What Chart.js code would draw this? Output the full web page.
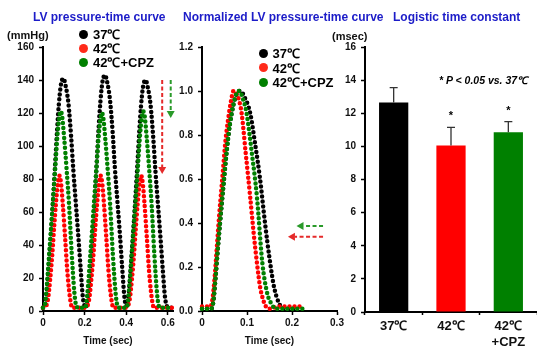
<!DOCTYPE html>
<html><head><meta charset="utf-8">
<script src="https://cdn.jsdelivr.net/npm/chart.js@4.4.1/dist/chart.umd.min.js"></script>
<style>
html,body{margin:0;padding:0;background:#fff;}
#wrap{position:relative;width:537px;height:346px;overflow:hidden;font-family:Arial,'Liberation Sans',sans-serif;background:#fff;}
canvas{position:absolute;top:0;}
.t{position:absolute;white-space:nowrap;transform:translateY(-50%);line-height:1;}
.title{color:#1c1cc8;font-weight:bold;font-size:12px;}
.unit{font-weight:bold;font-size:11px;color:#111;}
.leg{position:absolute;display:flex;align-items:center;height:14px;font-weight:bold;font-size:13px;color:#000;white-space:nowrap;}
.dot{display:inline-block;width:9px;height:9px;border-radius:50%;}
.note{font-weight:bold;font-style:italic;font-size:10.5px;color:#000;}
</style></head><body>
<div id="wrap">
<canvas id="c1" width="185" height="346" style="left:0;width:185px;height:346px"></canvas>
<canvas id="c2" width="178" height="346" style="left:172px;width:178px;height:346px"></canvas>
<canvas id="c3" width="202" height="346" style="left:335px;width:202px;height:346px"></canvas>
<div class="t title" style="left:33px;top:17px">LV pressure-time curve</div>
<div class="t title" style="left:183px;top:17px">Normalized LV pressure-time curve</div>
<div class="t title" style="left:393px;top:17px">Logistic time constant</div>
<div class="t unit" style="left:7px;top:35px">(mmHg)</div>
<div class="t unit" style="left:332px;top:36px">(msec)</div>
<div class="t note" style="left:439px;top:80px">* P &lt; 0.05 vs. 37℃</div>
</div>
<script>
// ---------- data ----------
const seriesNames = ['37℃', '42℃', '42℃+CPZ'];
const seriesColors = ['#000000', '#ff0000', '#008000'];

// Panel 1: LV pressure (mmHg) vs time (sec)
const t37 = [0,0.005,0.015,0.030,0.045,0.058,0.068,0.076,0.086,0.098,0.108,0.122,0.135,0.146,0.158,0.170,0.182,0.191,0.200,
  0.205,0.215,0.230,0.245,0.258,0.268,0.276,0.286,0.298,0.308,0.322,0.335,0.346,0.358,0.370,0.382,0.391,0.400,
  0.410,0.425,0.440,0.453,0.463,0.471,0.481,0.493,0.503,0.517,0.530,0.541,0.553,0.565,0.577,0.586,0.595,0.605,0.625];
const p37 = [2,2,8,32,60,88,110,125,137,141,137,126,106,85,65,45,24,9,3,
  2,8,32,61,89,112,127,139,143,139,128,108,86,66,46,24,9,3,
  8,32,60,87,109,124,136,140,136,125,105,84,64,44,23,9,3,2,2];

const t42 = [0,0.015,0.025,0.035,0.045,0.053,0.062,0.071,0.079,0.087,0.095,0.106,0.117,0.125,0.132,0.140,
  0.198,0.213,0.223,0.233,0.243,0.251,0.260,0.269,0.277,0.285,0.293,0.304,0.315,0.323,0.330,0.338,
  0.393,0.408,0.418,0.428,0.438,0.446,0.455,0.464,0.472,0.480,0.488,0.499,0.510,0.518,0.525,0.533,0.620];
const p42 = [2,3,8,20,35,50,65,77,82,77,65,45,24,13,6,2,
  2,3,8,20,35,50,65,77,82,77,65,45,24,13,6,2,
  2,3,8,20,35,50,65,77,82,77,65,45,24,13,6,2,2];

const tCPZ = [0,0.008,0.015,0.030,0.047,0.058,0.069,0.078,0.085,0.092,0.101,0.114,0.125,0.138,0.151,0.160,0.170,
  0.200,0.206,0.213,0.228,0.245,0.256,0.267,0.276,0.283,0.290,0.299,0.312,0.323,0.336,0.349,0.358,0.368,
  0.397,0.405,0.412,0.427,0.444,0.455,0.466,0.475,0.482,0.489,0.498,0.511,0.522,0.535,0.548,0.557,0.567,0.625];
const pCPZ = [2,3,10,35,65,85,106,117,121,118,106,85,65,35,11,3,2,
  2,3,10,35,65,85,105,116,120,117,105,84,64,34,11,3,2,
  2,3,10,35,65,85,106,117,121,118,106,85,65,35,11,3,2,2];

// Panel 2: normalized LV pressure vs time (sec)
const n37t = [0,0.020,0.025,0.030,0.035,0.040,0.048,0.055,0.062,0.070,0.078,0.085,0.095,0.107,0.118,0.129,0.140,0.150,0.160,0.170,0.178,0.190,0.205];
const n37v = [0.01,0.01,0.04,0.15,0.28,0.40,0.58,0.73,0.85,0.94,0.99,1.0,0.97,0.90,0.76,0.60,0.40,0.24,0.11,0.04,0.015,0.01,0.01];
const n42t = [0,0.018,0.023,0.028,0.033,0.038,0.045,0.052,0.058,0.064,0.070,0.076,0.082,0.088,0.097,0.107,0.115,0.122,0.129,0.136,0.142,0.150,0.170,0.222];
const n42v = [0.02,0.02,0.05,0.15,0.29,0.43,0.60,0.77,0.87,0.95,1.0,0.99,0.96,0.90,0.72,0.52,0.35,0.22,0.11,0.05,0.02,0.01,0.02,0.02];
const nCPZt = [0,0.020,0.025,0.030,0.035,0.040,0.048,0.055,0.062,0.070,0.077,0.083,0.090,0.099,0.110,0.122,0.134,0.145,0.155,0.165,0.175,0.225];
const nCPZv = [0.01,0.01,0.04,0.15,0.28,0.40,0.58,0.73,0.85,0.94,0.99,1.0,0.97,0.90,0.73,0.52,0.22,0.08,0.03,0.01,0.01,0.01];

// Panel 3: logistic time constant (msec)
const barLabels = ['37℃', '42℃', ['42℃', '+CPZ']];
const tauMean = [12.65, 10.05, 10.85];
const tauErr = [0.9, 1.1, 0.65];
const tauSig = [false, true, true];

// tick labels
const xTicks1 = [0, 0.2, 0.4, 0.6];
const yTicks1 = [0, 20, 40, 60, 80, 100, 120, 140, 160];
const xTicks2 = [0, 0.1, 0.2, 0.3];
const yTicks2 = [0, 0.2, 0.4, 0.6, 0.8, 1.0, 1.2];
const yTicks3 = [0, 2, 4, 6, 8, 10, 12, 14, 16];

// ---------- helpers ----------
const FONT = "Arial, 'Liberation Sans', sans-serif";
const tickFont = {family: FONT, size: 10, weight: 'bold'};
const pts = (ts, vs) => ts.map((t, i) => ({x: t, y: vs[i]}));

function dotted(label, color, data) {
  return {label, data, borderColor: color, backgroundColor: color, borderWidth: 4.5,
    borderDash: [0, 5], borderCapStyle: 'round', borderJoinStyle: 'round',
    pointRadius: 0, fill: false, cubicInterpolationMode: 'monotone', clip: false};
}
function axisCommon(extra) {
  return Object.assign({
    border: {display: true, color: '#000', width: 2},
    grid: {display: true, drawOnChartArea: false, drawTicks: true, tickLength: 4, tickWidth: 1.5, tickColor: '#000'},
  }, extra);
}

function drawArrow(ctx, x0, y0, x1, y1, color) {
  const dx = x1 - x0, dy = y1 - y0, L = Math.hypot(dx, dy), ux = dx / L, uy = dy / L;
  const head = 7, hw = 4;
  const bx = x1 - ux * head, by = y1 - uy * head;
  ctx.save();
  ctx.strokeStyle = color; ctx.lineWidth = 2; ctx.setLineDash([4, 2.5]);
  ctx.beginPath(); ctx.moveTo(x0, y0); ctx.lineTo(bx, by); ctx.stroke();
  ctx.setLineDash([]); ctx.fillStyle = color;
  ctx.beginPath(); ctx.moveTo(x1, y1);
  ctx.lineTo(bx - uy * hw, by + ux * hw); ctx.lineTo(bx + uy * hw, by - ux * hw);
  ctx.closePath(); ctx.fill();
  ctx.restore();
}
const arrowPlugin = {
  id: 'arrows',
  afterDatasetsDraw(chart, args, opts) {
    const xs = chart.scales.x, ys = chart.scales.y;
    (opts.list || []).forEach(a => {
      drawArrow(chart.ctx, xs.getPixelForValue(a.x0), ys.getPixelForValue(a.y0),
        xs.getPixelForValue(a.x1), ys.getPixelForValue(a.y1), a.color);
    });
  }
};

function lineChart(id, datasets, xMax, yMax, xT, yT, yFmt, arrows, xTitle, padRight, yWidth) {
  return new Chart(document.getElementById(id), {
    type: 'line',
    data: {datasets},
    plugins: [arrowPlugin],
    options: {
      responsive: false, animation: false, devicePixelRatio: 1,
      layout: {padding: {left: 0, top: 47, right: padRight, bottom: 0}},
      plugins: {legend: {display: false}, tooltip: {enabled: false}, arrows: {list: arrows}},
      scales: {
        x: axisCommon({type: 'linear', min: 0, max: xMax,
          afterBuildTicks: s => { s.ticks = xT.map(v => ({value: v})); },
          afterFit: s => { s.height = 35; },
          ticks: {font: tickFont, color: '#111', padding: 2, maxRotation: 0},
          title: {display: true, text: xTitle, font: {family: FONT, size: 10, weight: 'bold'}, color: '#111', padding: {top: 0, bottom: -1}}
        }),
        y: axisCommon({type: 'linear', min: 0, max: yMax,
          afterBuildTicks: s => { s.ticks = yT.map(v => ({value: v})); },
          afterFit: s => { s.width = yWidth; },
          ticks: {font: tickFont, color: '#111', padding: 5, callback: yFmt}
        })
      }
    }
  });
}

// Panel 1
lineChart('c1', [
  dotted(seriesNames[2], seriesColors[2], pts(tCPZ, pCPZ)),
  dotted(seriesNames[1], seriesColors[1], pts(t42, p42)),
  dotted(seriesNames[0], seriesColors[0], pts(t37, p37))
], 0.625, 160, xTicks1, yTicks1, v => String(v),
  [{x0: 0.573, y0: 140, x1: 0.573, y1: 83, color: '#e52a2a'},
   {x0: 0.614, y0: 140, x1: 0.614, y1: 117, color: '#2a9a2a'}], 'Time (sec)', 12, 43);

// Panel 2
lineChart('c2', [
  dotted(seriesNames[2], seriesColors[2], pts(nCPZt, nCPZv)),
  dotted(seriesNames[1], seriesColors[1], pts(n42t, n42v)),
  dotted(seriesNames[0], seriesColors[0], pts(n37t, n37v))
], 0.3, 1.2, xTicks2, yTicks2, v => v.toFixed(1),
  [{x0: 0.269, y0: 0.386, x1: 0.210, y1: 0.386, color: '#2a9a2a'},
   {x0: 0.269, y0: 0.338, x1: 0.191, y1: 0.338, color: '#e52a2a'}], 'Time (sec)', 13, 30);

// Panel 3
const errPlugin = {
  id: 'errbars',
  afterDatasetsDraw(chart) {
    const ctx = chart.ctx, ys = chart.scales.y, meta = chart.getDatasetMeta(0);
    meta.data.forEach((bar, i) => {
      const x = bar.x, yTop = ys.getPixelForValue(tauMean[i]), yE = ys.getPixelForValue(tauMean[i] + tauErr[i]);
      ctx.save();
      ctx.strokeStyle = '#333'; ctx.lineWidth = 1.3;
      ctx.beginPath(); ctx.moveTo(x, yTop); ctx.lineTo(x, yE);
      ctx.moveTo(x - 4, yE); ctx.lineTo(x + 4, yE); ctx.stroke();
      if (tauSig[i]) {
        ctx.fillStyle = '#000'; ctx.font = 'bold 11px ' + FONT;
        ctx.textAlign = 'center'; ctx.textBaseline = 'middle';
        ctx.fillText('*', x, yE - 11);
      }
      ctx.restore();
    });
  }
};
new Chart(document.getElementById('c3'), {
  type: 'bar',
  data: {labels: barLabels, datasets: [{data: tauMean, backgroundColor: seriesColors, borderWidth: 0,
    barPercentage: 0.51, categoryPercentage: 1.0}]},
  plugins: [errPlugin],
  options: {
    responsive: false, animation: false, devicePixelRatio: 1,
    layout: {padding: {left: 0, top: 47, right: 0, bottom: 0}},
    plugins: {legend: {display: false}, tooltip: {enabled: false}},
    scales: {
      x: axisCommon({type: 'category', offset: true,
        grid: {display: true, offset: true, drawOnChartArea: false, drawTicks: true, tickLength: 3, tickWidth: 1.5, tickColor: '#000'},
        afterFit: s => { s.height = 34; },
        ticks: {font: {family: FONT, size: 13, weight: 'bold'}, color: '#111', padding: 4, maxRotation: 0}
      }),
      y: axisCommon({type: 'linear', min: 0, max: 16,
        afterBuildTicks: s => { s.ticks = yTicks3.map(v => ({value: v})); },
        afterFit: s => { s.width = 30; },
        ticks: {font: tickFont, color: '#111', padding: 5}
      })
    }
  }
});

// Legends (HTML text)
function buildLegend(left, centers) {
  const wrap = document.getElementById('wrap');
  seriesNames.forEach((n, i) => {
    const d = document.createElement('div');
    d.className = 'leg';
    d.style.left = left + 'px';
    d.style.top = (centers[i] - 7) + 'px';
    d.innerHTML = '<span class="dot" style="background:' + (i === 1 ? '#ff2a1a' : seriesColors[i]) + '"></span><span style="margin-left:5px">' + n + '</span>';
    wrap.appendChild(d);
  });
}
buildLegend(79, [34, 48, 62]);
buildLegend(258.5, [53, 67.5, 82]);
</script>
</body></html>
